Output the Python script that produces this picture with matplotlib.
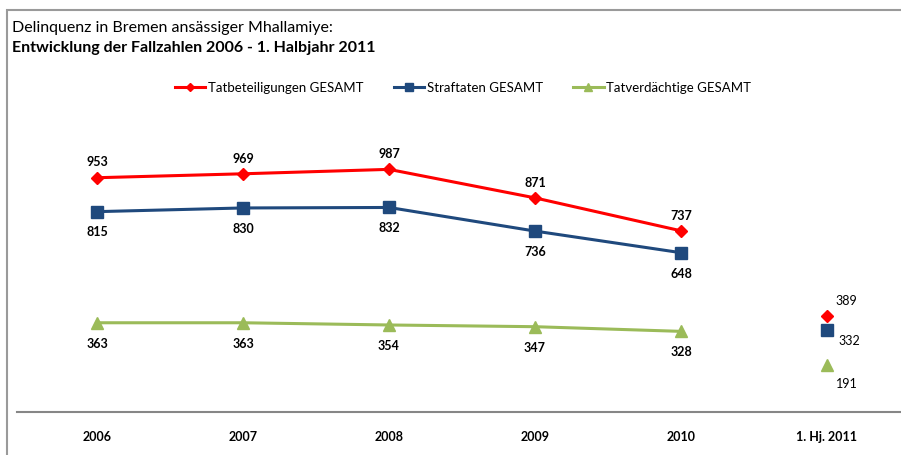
import matplotlib
matplotlib.use("Agg")
from matplotlib import pyplot as plt
from matplotlib.patches import Rectangle

plt.rcParams['font.family'] = ['Lato', 'DejaVu Sans']

# data
categories = ["2006", "2007", "2008", "2009", "2010", "1. Hj. 2011"]
tatbeteiligungen = [953, 969, 987, 871, 737, 389]
straftaten = [815, 830, 832, 736, 648, 332]
tatverdaechtige = [363, 363, 354, 347, 328, 191]

series = [
    ("Tatbeteiligungen GESAMT", tatbeteiligungen, "#FF0000", "D", 6.5, 11),
    ("Straftaten GESAMT", straftaten, "#1F497D", "s", 8.5, -15),
    ("Tatverdächtige GESAMT", tatverdaechtige, "#9BBB59", "^", 8.5, -15),
]
# offsets (points) for the half-year labels, placed to the right
hj_offsets = [(14, 11), (16, -8), (14, -14)]

W, H = 901, 455
fig = plt.figure(figsize=(W / 100, H / 100), dpi=100)

# frame around the chart
fig.patches.append(Rectangle((7 / W, -0.1), 1.2, (455 - 10) / H + 0.1,
                             transform=fig.transFigure, fill=False,
                             edgecolor="#9A9A9A", linewidth=1.5))

fig.text(12 / W, 1 - 28 / H, "Delinquenz in Bremen ansässiger Mhallamiye:",
         fontsize=11.5, va="center", ha="left")
fig.text(12 / W, 1 - 48 / H, "Entwicklung der Fallzahlen 2006 - 1. Halbjahr 2011",
         fontsize=11.5, fontweight="bold", va="center", ha="left")

ax = fig.add_axes([24 / W, 43 / H, 876 / W, 295 / H])
x = list(range(len(categories)))

handles = []
for (name, vals, col, mk, ms, dy), (hx, hy) in zip(series, hj_offsets):
    h, = ax.plot(x[:5], vals[:5], color=col, lw=2.2, marker=mk, ms=ms,
                 label=name)
    ax.plot(x[5], vals[5], linestyle="none", color=col, marker=mk, ms=ms)
    handles.append(h)
    for xi, v in zip(x[:5], vals[:5]):
        ax.annotate(str(v), (xi, v), xytext=(0, dy), textcoords="offset points",
                    ha="center", va="center", fontsize=9, fontweight="bold")
    ax.annotate(str(vals[5]), (x[5], vals[5]), xytext=(hx, hy),
                textcoords="offset points", ha="center", va="center",
                fontsize=9)

ax.set_xlim(-0.5, 5.5)
ax.set_ylim(0, 1200)
ax.set_xticks(x)
ax.set_xticklabels(categories, fontweight="bold", fontsize=9)
ax.tick_params(axis="x", length=0, pad=14)
ax.set_yticks([])
for s in ["top", "left", "right"]:
    ax.spines[s].set_visible(False)
ax.spines["bottom"].set_color("#868686")
ax.spines["bottom"].set_linewidth(1.5)
ax.spines["bottom"].set_bounds(-0.55, 5.5)
ax.patch.set_visible(False)

fig.legend(handles=handles, loc="center", bbox_to_anchor=(463 / W, 1 - 88 / H),
           ncol=3, frameon=False, fontsize=9.5, handlelength=2.3,
           handletextpad=0.2, columnspacing=2.3, markerscale=0.7)

fig.savefig("out.png", dpi=100)
